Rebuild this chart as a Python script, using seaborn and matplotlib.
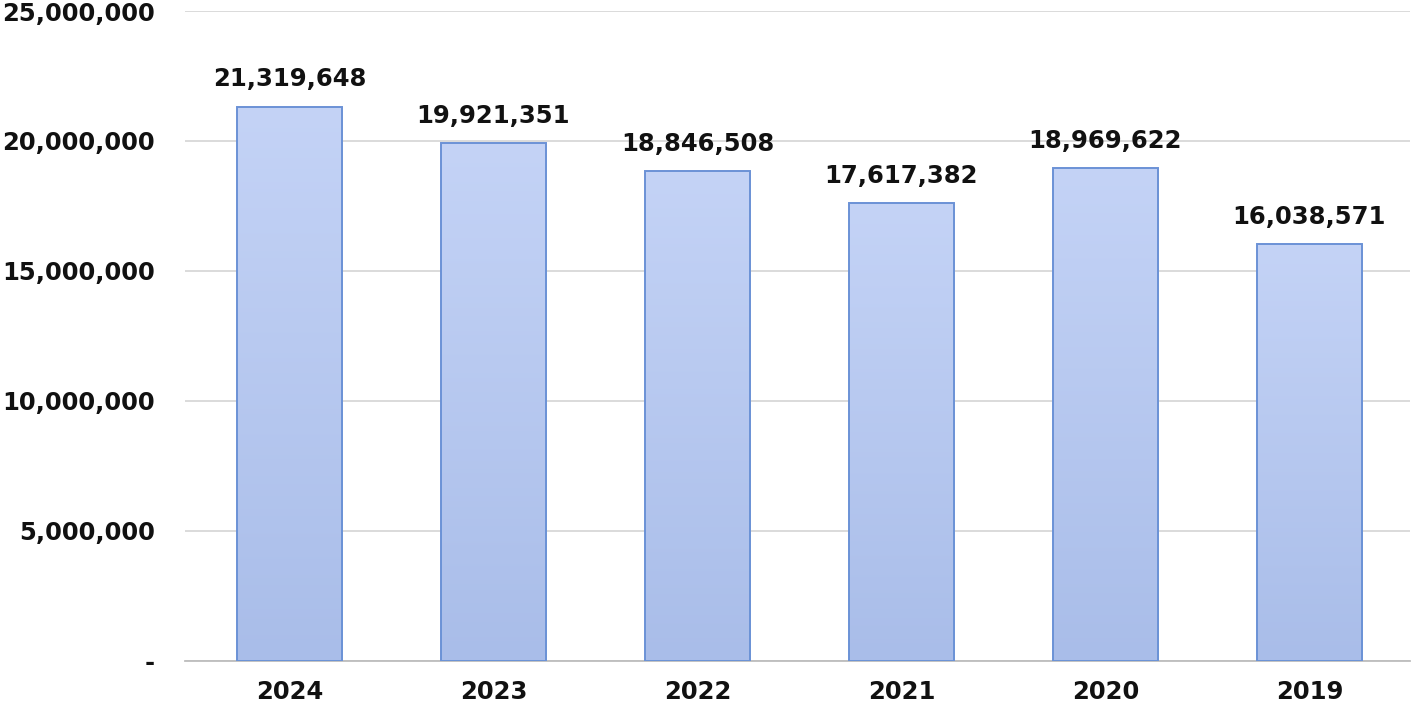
import matplotlib
matplotlib.use("Agg")
import matplotlib.pyplot as plt
import seaborn as sns
import pandas as pd
import numpy as np
from matplotlib.ticker import FuncFormatter
from matplotlib.colors import LinearSegmentedColormap

years = ["2024", "2023", "2022", "2021", "2020", "2019"]
values = [21319648, 19921351, 18846508, 17617382, 18969622, 16038571]

sns.set_theme(style="white")
plt.rcParams['font.family'] = ['DejaVu Sans']

df = pd.DataFrame({"year": years, "value": values})

fig = plt.figure(figsize=(14.16, 7.19), dpi=100)
ax = fig.add_axes([0.131, 0.0807, 0.865, 0.904])

sns.barplot(data=df, x="year", y="value", order=years, color="#b6c8f0",
            width=0.515, edgecolor="#6b92d6", linewidth=1.4, saturation=1, ax=ax, zorder=3)

ax.set_ylim(0, 25_000_000)
ax.set_xlim(-0.51, 5.495)

# vertical gradient fill within each bar
cmap = LinearSegmentedColormap.from_list("g", ["#a9bde9", "#c4d3f6"])
grad = np.linspace(0, 1, 256).reshape(-1, 1)
for p in ax.patches:
    x0, y0 = p.get_x(), p.get_y()
    w, h = p.get_width(), p.get_height()
    im = ax.imshow(grad, cmap=cmap, origin="lower", aspect="auto",
                   extent=[x0, x0 + w, y0, y0 + h], zorder=3.5)
    im.set_clip_path(p)
    p.set_facecolor("none")
    p.set_zorder(4)
ax.set_xlim(-0.51, 5.495)
ax.set_ylim(0, 25_000_000)

ax.set_yticks(range(0, 25_000_001, 5_000_000))
ax.yaxis.set_major_formatter(FuncFormatter(lambda v, p: "-" if v == 0 else f"{int(v):,}"))
ax.grid(axis="y", color="#d4d4d4", linewidth=1.2, zorder=0)
ax.set_axisbelow(True)
for s in ["top", "right", "left"]:
    ax.spines[s].set_visible(False)
ax.spines["bottom"].set_color("#bdbdbd")
ax.spines["bottom"].set_linewidth(1.3)
ax.set_xlabel("")
ax.set_ylabel("")
ax.tick_params(axis="y", length=0, pad=22, labelsize=17.5, labelcolor="#111111")
ax.tick_params(axis="x", length=0, pad=14, labelsize=17.5, labelcolor="#111111")
for lab in ax.get_xticklabels() + ax.get_yticklabels():
    lab.set_fontweight("bold")

for i, v in enumerate(values):
    ax.annotate(f"{v:,}", (i, v), xytext=(0, 11), textcoords="offset points",
                ha="center", va="bottom", fontsize=17.5, fontweight="bold", color="#111111")

fig.savefig("out.png", dpi=100, facecolor="white")
